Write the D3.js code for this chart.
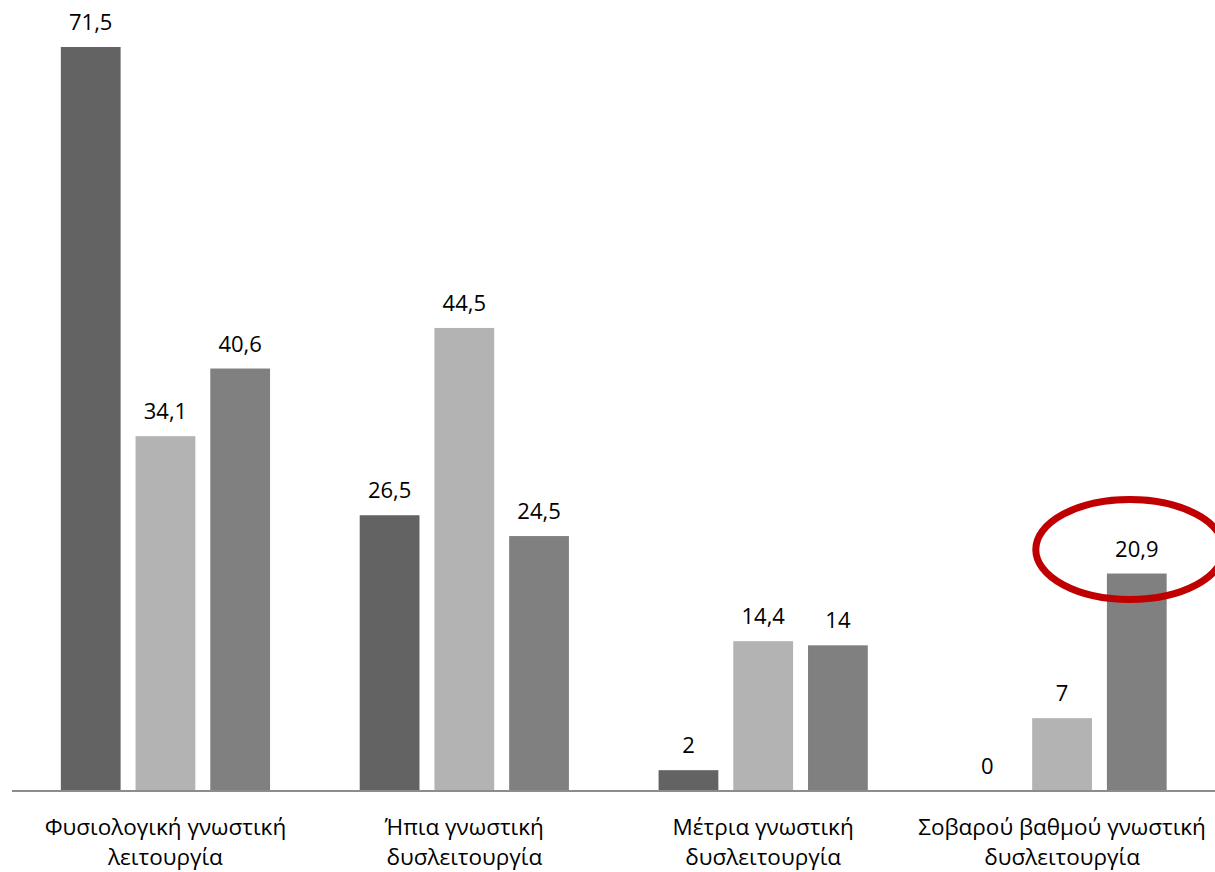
<!DOCTYPE html>
<html>
<head>
<meta charset="utf-8">
<script src="https://cdn.jsdelivr.net/npm/d3@7"></script>
<style>
  html, body { margin: 0; padding: 0; background: #ffffff; }
  svg { display: block; }
  text { font-family: "Open Sans", "Noto Sans", sans-serif; fill: #000; }
</style>
</head>
<body>
<svg id="chart" width="1215" height="872"></svg>
<script>
// Categories (two-line labels) and the three series of percentages
const categories = [
  ["Φυσιολογική γνωστική", "λειτουργία"],
  ["Ήπια γνωστική", "δυσλειτουργία"],
  ["Μέτρια γνωστική", "δυσλειτουργία"],
  ["Σοβαρού βαθμού γνωστική", "δυσλειτουργία"]
];
const seriesNames = ["s1", "s2", "s3"];
const series1 = [71.5, 26.5, 2, 0];
const series2 = [34.1, 44.5, 14.4, 7];
const series3 = [40.6, 24.5, 14, 20.9];
const valueLabels = [
  ["71,5", "26,5", "2", "0"],
  ["34,1", "44,5", "14,4", "7"],
  ["40,6", "24,5", "14", "20,9"]
];
const seriesColors = ["#636363", "#b3b3b3", "#808080"];
const highlight = { category: 3, series: 2 };

const svg = d3.select("#chart");
const baseY = 791;

const x0 = d3.scaleBand()
  .domain(d3.range(categories.length))
  .range([16, 1211.5])
  .paddingInner(0.3)
  .paddingOuter(0.15);

const x1 = d3.scaleBand()
  .domain(seriesNames)
  .range([0, x0.bandwidth()])
  .paddingInner(0.2)
  .paddingOuter(0);

const y = d3.scaleLinear().domain([0, 71.5]).range([baseY, 47]);

const allSeries = [series1, series2, series3];
const rows = [];
allSeries.forEach((vals, si) => {
  vals.forEach((v, ci) => rows.push({ ci, si, v, label: valueLabels[si][ci] }));
});

// Bars
svg.append("g").selectAll("rect")
  .data(rows)
  .join("rect")
  .attr("x", d => x0(d.ci) + x1(seriesNames[d.si]))
  .attr("y", d => y(d.v))
  .attr("width", x1.bandwidth())
  .attr("height", d => baseY - y(d.v))
  .attr("fill", d => seriesColors[d.si]);

// Value labels
svg.append("g").selectAll("text")
  .data(rows)
  .join("text")
  .attr("x", d => x0(d.ci) + x1(seriesNames[d.si]) + x1.bandwidth() / 2)
  .attr("y", d => y(d.v) - 17)
  .attr("text-anchor", "middle")
  .attr("font-size", 22)
  .text(d => d.label);

// Category axis
const xAxis = d3.axisBottom(x0).tickSize(0).tickFormat("");
const axisG = svg.append("g").attr("transform", `translate(0,${baseY})`).call(xAxis);
axisG.select(".domain").attr("d", "M12,0H1215").attr("stroke", "#8c8c8c").attr("stroke-width", 2);

const catG = svg.append("g");
categories.forEach((lines, ci) => {
  const t = catG.append("text")
    .attr("x", x0(ci) + x0.bandwidth() / 2)
    .attr("y", 835)
    .attr("text-anchor", "middle")
    .attr("font-size", 22.5);
  lines.forEach((ln, i) => {
    t.append("tspan")
      .attr("x", x0(ci) + x0.bandwidth() / 2)
      .attr("dy", i === 0 ? 0 : 30)
      .text(ln);
  });
});

// Red ellipse around the highlighted value
const hx = x0(highlight.category) + x1(seriesNames[highlight.series]) + x1.bandwidth() / 2;
const hy = y(allSeries[highlight.series][highlight.category]);
svg.append("ellipse")
  .attr("cx", hx - 7)
  .attr("cy", hy - 24)
  .attr("rx", 94)
  .attr("ry", 50)
  .attr("fill", "none")
  .attr("stroke", "#c00000")
  .attr("stroke-width", 7);
</script>
</body>
</html>
